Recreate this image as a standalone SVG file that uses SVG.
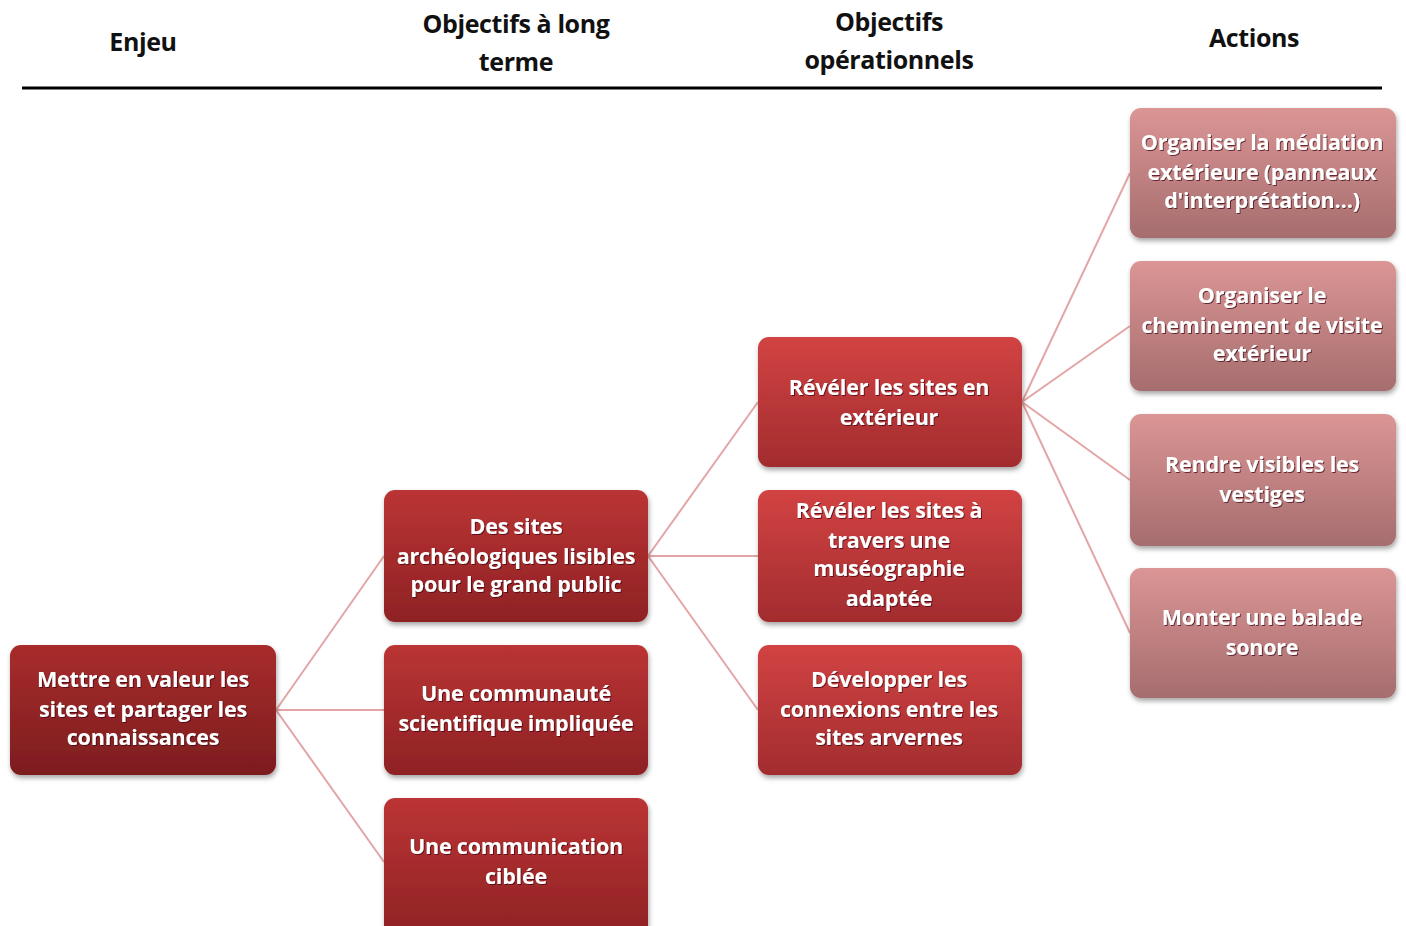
<svg xmlns="http://www.w3.org/2000/svg" width="1406" height="926" viewBox="0 0 1406 926">
<style>
.h{font-family:"Open Sans","Noto Sans",sans-serif;font-weight:bold;font-size:25px;fill:#111;text-anchor:middle;letter-spacing:-0.4px}
.t{font-family:"Open Sans","Noto Sans",sans-serif;font-weight:bold;font-size:21.5px;fill:#fff;text-anchor:middle;letter-spacing:-0.2px}
.c{stroke:#e3a5a5;stroke-width:2;fill:none}
</style>
<defs>
<linearGradient id="g1" x1="0" y1="0" x2="0" y2="1"><stop offset="0" stop-color="#a82c2c"/><stop offset="1" stop-color="#7c1d1f"/></linearGradient>
<linearGradient id="g2" x1="0" y1="0" x2="0" y2="1"><stop offset="0" stop-color="#bb3434"/><stop offset="1" stop-color="#8e2224"/></linearGradient>
<linearGradient id="g3" x1="0" y1="0" x2="0" y2="1"><stop offset="0" stop-color="#d24343"/><stop offset="1" stop-color="#a22c2e"/></linearGradient>
<linearGradient id="g4" x1="0" y1="0" x2="0" y2="1"><stop offset="0" stop-color="#db9595"/><stop offset="1" stop-color="#a66d6e"/></linearGradient>
<filter id="sh" x="-10%" y="-10%" width="125%" height="130%"><feDropShadow dx="1" dy="3" stdDeviation="2.5" flood-color="#000" flood-opacity="0.35"/></filter>
<filter id="ts" x="-5%" y="-20%" width="110%" height="150%"><feDropShadow dx="1" dy="1" stdDeviation="0.6" flood-color="#3a0010" flood-opacity="0.7"/></filter>
</defs>
<rect width="1406" height="926" fill="#fff"/>
<g id="header">
<text class="h" x="143" y="51">Enjeu</text>
<text class="h" x="516" y="33">Objectifs à long</text>
<text class="h" x="516" y="71">terme</text>
<text class="h" x="889" y="31">Objectifs</text>
<text class="h" x="889" y="69">opérationnels</text>
<text class="h" x="1254" y="47">Actions</text>
<line x1="22" y1="88" x2="1382" y2="88" stroke="#000" stroke-width="3"/>
</g>
<g id="connectors">
<line class="c" x1="276" y1="710" x2="384" y2="556"/>
<line class="c" x1="276" y1="710" x2="384" y2="710"/>
<line class="c" x1="276" y1="710" x2="384" y2="862"/>
<line class="c" x1="648" y1="556" x2="758" y2="402"/>
<line class="c" x1="648" y1="556" x2="758" y2="556"/>
<line class="c" x1="648" y1="556" x2="758" y2="710"/>
<line class="c" x1="1022" y1="402" x2="1130" y2="173"/>
<line class="c" x1="1022" y1="402" x2="1130" y2="326"/>
<line class="c" x1="1022" y1="402" x2="1130" y2="480"/>
<line class="c" x1="1022" y1="402" x2="1130" y2="633"/>
</g>
<g id="n-enjeu">
<rect x="10" y="645" width="266" height="130" rx="11" fill="url(#g1)" filter="url(#sh)"/>
<g filter="url(#ts)"><text class="t" x="143" y="687">Mettre en valeur les</text><text class="t" x="143" y="717">sites et partager les</text><text class="t" x="143" y="745">connaissances</text></g>
</g>
<g id="n-olt1">
<rect x="384" y="490" width="264" height="132" rx="11" fill="url(#g2)" filter="url(#sh)"/>
<g filter="url(#ts)"><text class="t" x="516" y="534">Des sites</text><text class="t" x="516" y="564">archéologiques lisibles</text><text class="t" x="516" y="592">pour le grand public</text></g>
</g>
<g id="n-olt2">
<rect x="384" y="645" width="264" height="130" rx="11" fill="url(#g2)" filter="url(#sh)"/>
<g filter="url(#ts)"><text class="t" x="516" y="701">Une communauté</text><text class="t" x="516" y="731">scientifique impliquée</text></g>
</g>
<g id="n-olt3">
<rect x="384" y="798" width="264" height="140" rx="11" fill="url(#g2)" filter="url(#sh)"/>
<g filter="url(#ts)"><text class="t" x="516" y="854">Une communication</text><text class="t" x="516" y="884">ciblée</text></g>
</g>
<g id="n-op1">
<rect x="758" y="337" width="264" height="130" rx="11" fill="url(#g3)" filter="url(#sh)"/>
<g filter="url(#ts)"><text class="t" x="889" y="395">Révéler les sites en</text><text class="t" x="889" y="425">extérieur</text></g>
</g>
<g id="n-op2">
<rect x="758" y="490" width="264" height="132" rx="11" fill="url(#g3)" filter="url(#sh)"/>
<g filter="url(#ts)"><text class="t" x="889" y="518">Révéler les sites à</text><text class="t" x="889" y="548">travers une</text><text class="t" x="889" y="576">muséographie</text><text class="t" x="889" y="606">adaptée</text></g>
</g>
<g id="n-op3">
<rect x="758" y="645" width="264" height="130" rx="11" fill="url(#g3)" filter="url(#sh)"/>
<g filter="url(#ts)"><text class="t" x="889" y="687">Développer les</text><text class="t" x="889" y="717">connexions entre les</text><text class="t" x="889" y="745">sites arvernes</text></g>
</g>
<g id="n-a1">
<rect x="1130" y="108" width="266" height="130" rx="11" fill="url(#g4)" filter="url(#sh)"/>
<g filter="url(#ts)"><text class="t" x="1262" y="150">Organiser la médiation</text><text class="t" x="1262" y="180">extérieure (panneaux</text><text class="t" x="1262" y="208">d'interprétation…)</text></g>
</g>
<g id="n-a2">
<rect x="1130" y="261" width="266" height="130" rx="11" fill="url(#g4)" filter="url(#sh)"/>
<g filter="url(#ts)"><text class="t" x="1262" y="303">Organiser le</text><text class="t" x="1262" y="333">cheminement de visite</text><text class="t" x="1262" y="361">extérieur</text></g>
</g>
<g id="n-a3">
<rect x="1130" y="414" width="266" height="132" rx="11" fill="url(#g4)" filter="url(#sh)"/>
<g filter="url(#ts)"><text class="t" x="1262" y="472">Rendre visibles les</text><text class="t" x="1262" y="502">vestiges</text></g>
</g>
<g id="n-a4">
<rect x="1130" y="568" width="266" height="130" rx="11" fill="url(#g4)" filter="url(#sh)"/>
<g filter="url(#ts)"><text class="t" x="1262" y="625">Monter une balade</text><text class="t" x="1262" y="655">sonore</text></g>
</g>
</svg>
